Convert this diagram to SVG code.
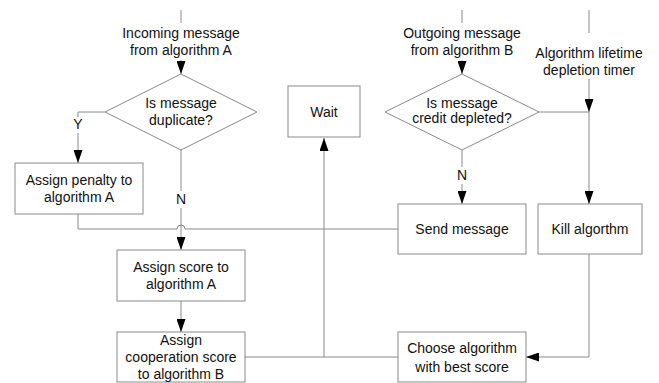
<svg xmlns="http://www.w3.org/2000/svg" width="659" height="383" viewBox="0 0 659 383">
  <style>
    .shape { fill: #ffffff; stroke: #8a8a8a; stroke-width: 1; }
    .wire { fill: none; stroke: #8a8a8a; stroke-width: 1; }
    .lbl { font-family: "Liberation Sans", Arial, sans-serif; font-size: 14px; fill: #111111; text-anchor: middle; }
  </style>
  <defs>
    <marker id="arrow" markerUnits="userSpaceOnUse" markerWidth="13" markerHeight="9" refX="13" refY="4.5" orient="auto" viewBox="0 0 13 9">
      <path d="M0,0 L13,4.5 L0,9 Z" fill="#000000"/>
    </marker>
  </defs>

  <rect width="659" height="383" fill="#ffffff"/>

  <!-- connectors -->
  <g id="connectors">
    <!-- incoming message into duplicate check -->
    <line class="wire" x1="181" y1="10" x2="181" y2="23"/>
    <line class="wire" x1="181" y1="60" x2="181" y2="74" marker-end="url(#arrow)"/>
    <!-- Y branch -->
    <polyline class="wire" points="105,112 78,112 78,117"/>
    <line class="wire" x1="78" y1="133" x2="78" y2="163" marker-end="url(#arrow)"/>
    <!-- N branch -->
    <line class="wire" x1="181" y1="150" x2="181" y2="191"/>
    <line class="wire" x1="181" y1="208" x2="181" y2="250" marker-end="url(#arrow)"/>
    <!-- penalty box to send message, hopping over the N branch -->
    <path class="wire" d="M78,214 V229 H177 A4,4 0 0 1 185,229 H398"/>
    <!-- score to cooperation -->
    <line class="wire" x1="181" y1="301" x2="181" y2="332" marker-end="url(#arrow)"/>
    <!-- cooperation to choose, and up to wait -->
    <line class="wire" x1="245" y1="357" x2="398" y2="357"/>
    <line class="wire" x1="324" y1="357" x2="324" y2="138" marker-end="url(#arrow)"/>
    <!-- outgoing message into credit check -->
    <line class="wire" x1="462" y1="10" x2="462" y2="23"/>
    <line class="wire" x1="462" y1="60" x2="462" y2="74" marker-end="url(#arrow)"/>
    <!-- credit check N branch -->
    <line class="wire" x1="462" y1="150" x2="462" y2="167"/>
    <line class="wire" x1="462" y1="184" x2="462" y2="204" marker-end="url(#arrow)"/>
    <!-- lifetime timer -->
    <line class="wire" x1="589" y1="10" x2="589" y2="33"/>
    <line class="wire" x1="589" y1="79" x2="589" y2="112" marker-end="url(#arrow)"/>
    <line class="wire" x1="539" y1="112" x2="589" y2="112"/>
    <line class="wire" x1="589" y1="112" x2="589" y2="204" marker-end="url(#arrow)"/>
    <!-- kill to choose -->
    <polyline class="wire" points="589,254 589,357 526,357" marker-end="url(#arrow)"/>
  </g>

  <!-- free labels -->
  <g id="labels">
    <text class="lbl" x="181" y="38">Incoming message</text>
    <text class="lbl" x="181" y="55">from algorithm A</text>
    <text class="lbl" x="462" y="38">Outgoing message</text>
    <text class="lbl" x="462" y="55">from algorithm B</text>
    <text class="lbl" x="589" y="58">Algorithm lifetime</text>
    <text class="lbl" x="589" y="75">depletion timer</text>
    <text class="lbl" x="78" y="129">Y</text>
    <text class="lbl" x="181" y="204">N</text>
    <text class="lbl" x="462" y="180">N</text>
  </g>

  <g id="dup-check">
    <polygon class="shape" points="181,74 257,112 181,150 105,112"/>
    <text class="lbl" x="181" y="108">Is message</text>
    <text class="lbl" x="181" y="125">duplicate?</text>
  </g>

  <g id="credit-check">
    <polygon class="shape" points="462,74 539,112 462,150 385,112"/>
    <text class="lbl" x="462" y="108">Is message</text>
    <text class="lbl" x="462" y="123">credit depleted?</text>
  </g>

  <g id="penalty">
    <rect class="shape" x="15" y="163" width="128" height="51"/>
    <text class="lbl" x="79" y="185">Assign penalty to</text>
    <text class="lbl" x="79" y="202">algorithm A</text>
  </g>

  <g id="wait">
    <rect class="shape" x="288" y="86" width="72" height="51"/>
    <text class="lbl" x="324" y="117">Wait</text>
  </g>

  <g id="send">
    <rect class="shape" x="398" y="204" width="128" height="50"/>
    <text class="lbl" x="462" y="234">Send message</text>
  </g>

  <g id="kill">
    <rect class="shape" x="538" y="204" width="104" height="50"/>
    <text class="lbl" x="590" y="234">Kill algorthm</text>
  </g>

  <g id="score">
    <rect class="shape" x="117" y="250" width="128" height="51"/>
    <text class="lbl" x="181" y="272">Assign score to</text>
    <text class="lbl" x="181" y="289">algorithm A</text>
  </g>

  <g id="cooperation">
    <rect class="shape" x="117" y="332" width="128" height="50"/>
    <text class="lbl" x="181" y="345">Assign</text>
    <text class="lbl" x="181" y="362">cooperation score</text>
    <text class="lbl" x="181" y="379">to algorithm B</text>
  </g>

  <g id="choose">
    <rect class="shape" x="398" y="332" width="128" height="50"/>
    <text class="lbl" x="462" y="353">Choose algorithm</text>
    <text class="lbl" x="462" y="372">with best score</text>
  </g>
</svg>
